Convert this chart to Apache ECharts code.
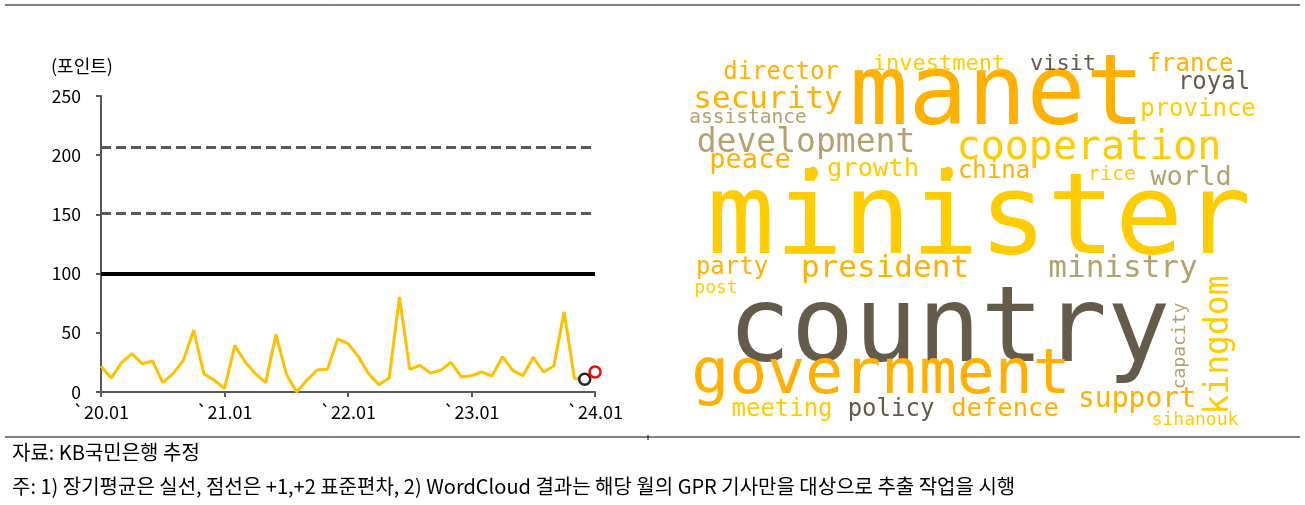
<!DOCTYPE html>
<html>
<head>
<meta charset="utf-8">
<script src="https://cdn.jsdelivr.net/npm/echarts@6/dist/echarts.min.js"></script>
<style>
html,body{margin:0;padding:0;background:#fff}
#main{width:1305px;height:505px}
</style>
</head>
<body>
<div id="main"></div>
<script>
// monthly GPR index, 2020.01 - 2024.01
const gprValues = [21.7, 11.8, 24.8, 32.4, 23.9, 26.2, 7.9, 15.5, 26.7, 52.1, 15.5, 9.9,
  2.8, 39.4, 25.3, 15.5, 7.9, 48.7, 15.5, 0, 9.9, 18.6, 19.2, 44.8,
  40.8, 30.1, 15.5, 6.2, 11.8, 80.2, 19.1, 22.5, 16, 18.3, 25.1, 12.9,
  13.8, 16.9, 13.5, 29.8, 18.3, 13.8, 29.3, 16.9, 22, 67.8, 11.3, 10.7, 16.9];
const tickLabels = ['`20.01', '`21.01', '`22.01', '`23.01', '`24.01'];
const longRunMean = 100;
const plus1Sd = 151;
const plus2Sd = 207;
const prevMonthIdx = 47;   // black circle
const lastMonthIdx = 48;   // red circle

// word cloud: words and their weights
const words = ['minister', 'country', 'manet', 'government', 'cooperation', 'development',
  'security', 'president', 'ministry', 'kingdom', 'support', 'peace', 'world', 'growth',
  'defence', 'director', 'france', 'royal', 'province', 'china', 'party', 'meeting',
  'policy', 'investment', 'visit', 'rice', 'assistance', 'post', 'capacity', 'sihanouk'];
const wordWeights = [113, 105, 98, 63, 40, 33, 31, 31, 31, 33, 28, 27, 27, 25.5,
  25.5, 24, 24, 24, 24, 24, 24, 24, 24, 22, 22, 20, 19.5, 18, 18, 18];

// cloud layout (page px centre, tone, rotation)
const tones = ['#FFCC00', '#FFB000', '#B5A06E', '#645B4B'];
const cloudLayout = {
  minister: [979, 224, 0], country: [949, 334, 3], manet: [997, 99, 1],
  government: [881, 377, 1], cooperation: [1089, 149, 0], development: [806, 143, 2],
  security: [768, 100, 1], president: [885, 269, 1], ministry: [1123, 269, 2],
  kingdom: [1219, 345, 0, 90], support: [1137, 400, 1], peace: [750, 161, 1],
  world: [1191, 178, 2], growth: [873, 169, 0], defence: [1005, 409, 1],
  director: [781, 73, 1], france: [1190, 65, 1], royal: [1214, 83, 3],
  province: [1198, 110, 0], china: [994, 172, 1], party: [732, 268, 1],
  meeting: [782, 410, 0], policy: [891, 410, 3], investment: [939, 64, 0],
  visit: [1063, 64, 3], rice: [1112, 175, 0], assistance: [748, 118, 2],
  post: [716, 288, 0], capacity: [1180, 346, 2, 90], sihanouk: [1195, 420, 0]
};
const cloudDots = [[813, 173], [948, 173]];

const categories = gprValues.map((v, i) => String(i));
const isYearStart = (i) => i % 12 === 0;

const chart = echarts.init(document.getElementById('main'));
const korFont = '"Noto Sans CJK KR", "Noto Sans", sans-serif';

const cloudData = words.map((w, i) => {
  const l = cloudLayout[w];
  return {
    name: w,
    value: [l[0], l[1]],
    label: {fontSize: wordWeights[i], color: tones[l[2]], rotate: l[3] || 0}
  };
});

const option = {
  animation: false,
  grid: [
    {left: 101, top: 96, width: 494, height: 296},
    {left: 0, top: 0, width: 1305, height: 505}
  ],
  xAxis: [
    {
      type: 'category', gridIndex: 0, data: categories, boundaryGap: false,
      axisLine: {lineStyle: {color: '#595959', width: 2}},
      axisTick: {interval: (i) => isYearStart(i), length: 5, lineStyle: {color: '#595959', width: 2}},
      axisLabel: {
        interval: (i) => isYearStart(i), formatter: (v, i) => tickLabels[i / 12],
        color: '#000', fontSize: 18, fontFamily: korFont, margin: 11
      },
      splitLine: {show: false}
    },
    {type: 'value', gridIndex: 1, min: 0, max: 1305, show: false}
  ],
  yAxis: [
    {
      type: 'value', gridIndex: 0, min: 0, max: 250, interval: 50,
      axisLine: {show: true, lineStyle: {color: '#595959', width: 2}},
      axisTick: {show: true, length: 5, lineStyle: {color: '#595959', width: 2}},
      axisLabel: {color: '#000', fontSize: 17.5, fontFamily: korFont, margin: 20},
      splitLine: {show: false}
    },
    {type: 'value', gridIndex: 1, min: 0, max: 505, inverse: true, show: false}
  ],
  graphic: [
    {type: 'line', shape: {x1: 5, y1: 5, x2: 1300, y2: 5}, style: {stroke: '#000', lineWidth: 1}},
    {type: 'line', shape: {x1: 5, y1: 437, x2: 1300, y2: 437}, style: {stroke: '#000', lineWidth: 1}},
    {type: 'line', shape: {x1: 648, y1: 435, x2: 648, y2: 440}, style: {stroke: '#000', lineWidth: 1}},
    {type: 'text', left: 51, top: 57, style: {text: '(포인트)', font: '18px ' + korFont, fill: '#000'}},
    {type: 'text', left: 12, top: 442, style: {text: '자료: KB국민은행 추정', font: '20px ' + korFont, fill: '#000'}},
    {type: 'text', left: 12, top: 476, style: {text: '주: 1) 장기평균은 실선, 점선은 +1,+2 표준편차, 2) WordCloud 결과는 해당 월의 GPR 기사만을 대상으로 추출 작업을 시행', font: '20px ' + korFont, fill: '#000'}}
  ],
  series: [
    {
      type: 'line', xAxisIndex: 0, yAxisIndex: 0, data: gprValues,
      symbol: 'none', lineStyle: {color: '#FFC000', width: 3},
      markLine: {
        silent: true, symbol: ['none', 'none'], label: {show: false},
        data: [
          {yAxis: longRunMean, lineStyle: {color: '#000', width: 4, type: 'solid'}},
          {yAxis: plus1Sd, lineStyle: {color: '#595959', width: 3, type: [10, 5]}},
          {yAxis: plus2Sd, lineStyle: {color: '#595959', width: 3, type: [10, 5]}}
        ]
      }
    },
    {
      type: 'scatter', xAxisIndex: 0, yAxisIndex: 0, symbol: 'circle', symbolSize: 11,
      data: [[prevMonthIdx, gprValues[prevMonthIdx]]],
      itemStyle: {color: '#fff', borderColor: '#262626', borderWidth: 2.5, opacity: 1}, z: 5
    },
    {
      type: 'scatter', xAxisIndex: 0, yAxisIndex: 0, symbol: 'circle', symbolSize: 11,
      data: [[lastMonthIdx, gprValues[lastMonthIdx]]],
      itemStyle: {color: '#fff', borderColor: '#FF0000', borderWidth: 2.5, opacity: 1}, z: 5
    },
    {
      type: 'scatter', xAxisIndex: 1, yAxisIndex: 1, silent: true,
      symbolSize: 1, itemStyle: {color: 'rgba(0,0,0,0)', opacity: 1},
      label: {show: true, position: 'inside', formatter: '{b}', fontFamily: 'DejaVu Sans Mono'},
      data: cloudData
    },
    {
      type: 'scatter', xAxisIndex: 1, yAxisIndex: 1, silent: true,
      symbol: 'circle', symbolSize: [10, 13], itemStyle: {color: '#FFCC00', opacity: 1},
      data: cloudDots
    }
  ]
};
chart.setOption(option);
</script>
</body>
</html>
